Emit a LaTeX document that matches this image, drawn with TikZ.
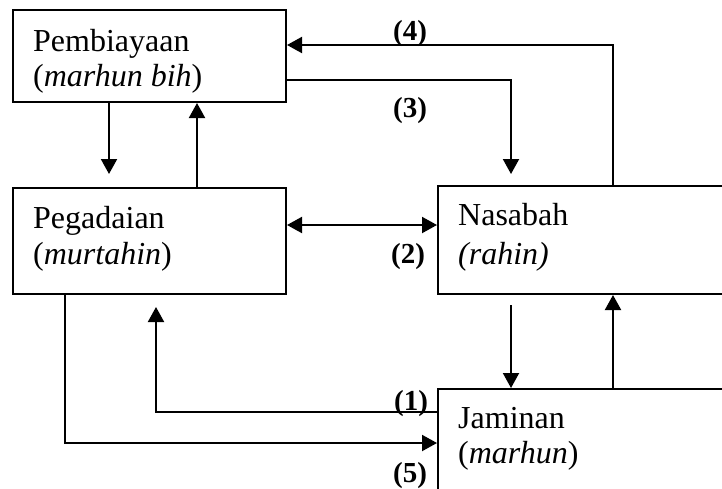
\documentclass[tikz,border=0pt]{standalone}
\usepackage{fontspec}
\setmainfont{Liberation Serif}
\usetikzlibrary{arrows.meta,calc}
\begin{document}
\begin{tikzpicture}[x=1pt,y=-1pt,
  box/.style={draw,line width=2pt,rectangle,anchor=north west,inner sep=0pt},
  txt/.style={anchor=base west,inner sep=0pt,font=\fontsize{32}{36}\selectfont},
  lbl/.style={anchor=base,inner sep=0pt,font=\fontsize{29}{32}\selectfont\bfseries},
  arr/.style={line width=2pt,-{Triangle[length=15pt,width=16pt]}},
  arrtwo/.style={line width=2pt,{Triangle[length=15pt,width=16pt]}-{Triangle[length=15pt,width=16pt]}}]
\clip (0,0) rectangle (722,488);
\useasboundingbox (0,0) rectangle (722,488);
\fill[white] (0,0) rectangle (722,488);
% boxes
\node[box,minimum width=273pt,minimum height=92pt] (pem) at (12,9) {};
\node[box,minimum width=273pt,minimum height=106pt] (peg) at (12,187) {};
\node[box,minimum width=300pt,minimum height=108pt] (nas) at (437,185) {};
\node[box,minimum width=300pt,minimum height=112pt] (jam) at (437,388) {};
% texts
\node[txt] (pemA) at (33,51) {Pembiayaan};
\node[txt] (pemB) at (33,86) {(\textit{marhun bih})};
\node[txt] (pegA) at (33,228) {Pegadaian};
\node[txt] (pegB) at (33,264) {(\textit{murtahin})};
\node[txt] (nasA) at (458,225) {Nasabah};
\node[txt] (nasB) at (458,264) {\textit{(rahin)}};
\node[txt] (jamA) at (458,428) {Jaminan};
\node[txt] (jamB) at (458,463) {(\textit{marhun})};
% labels
\node[lbl] (l4) at (410,40) {(4)};
\node[lbl] (l3) at (410,117) {(3)};
\node[lbl] (l2) at (408,263) {(2)};
\node[lbl] (l1) at (411,410) {(1)};
\node[lbl] (l5) at (410,482) {(5)};
% connectors
\draw[arr] ($(pem.south west)+(97,0)$) -- ($(peg.north west)+(97,-13)$);
\draw[arr] ($(peg.north west)+(185,0)$) -- ($(pem.south west)+(185,0)$);
\draw[arr] ($(pem.north east)+(0,71)$) -| ($(nas.north west)+(74,-11)$);
\draw[arr] ($(nas.north west)+(176,0)$) |- ($(pem.north east)+(0,36)$);
\draw[arrtwo] ($(peg.north east)+(0,38)$) -- ($(nas.north west)+(0,40)$);
\draw[arr] ($(peg.south west)+(53,0)$) |- ($(jam.north west)+(0,55)$);
\draw[arr] ($(jam.north west)+(0,24)$) -| ($(peg.south west)+(144,12)$);
\draw[arr] ($(nas.south west)+(74,10)$) -- ($(jam.north west)+(74,0)$);
\draw[arr] ($(jam.north west)+(176,0)$) -- ($(nas.south west)+(176,0)$);
\end{tikzpicture}
\end{document}
